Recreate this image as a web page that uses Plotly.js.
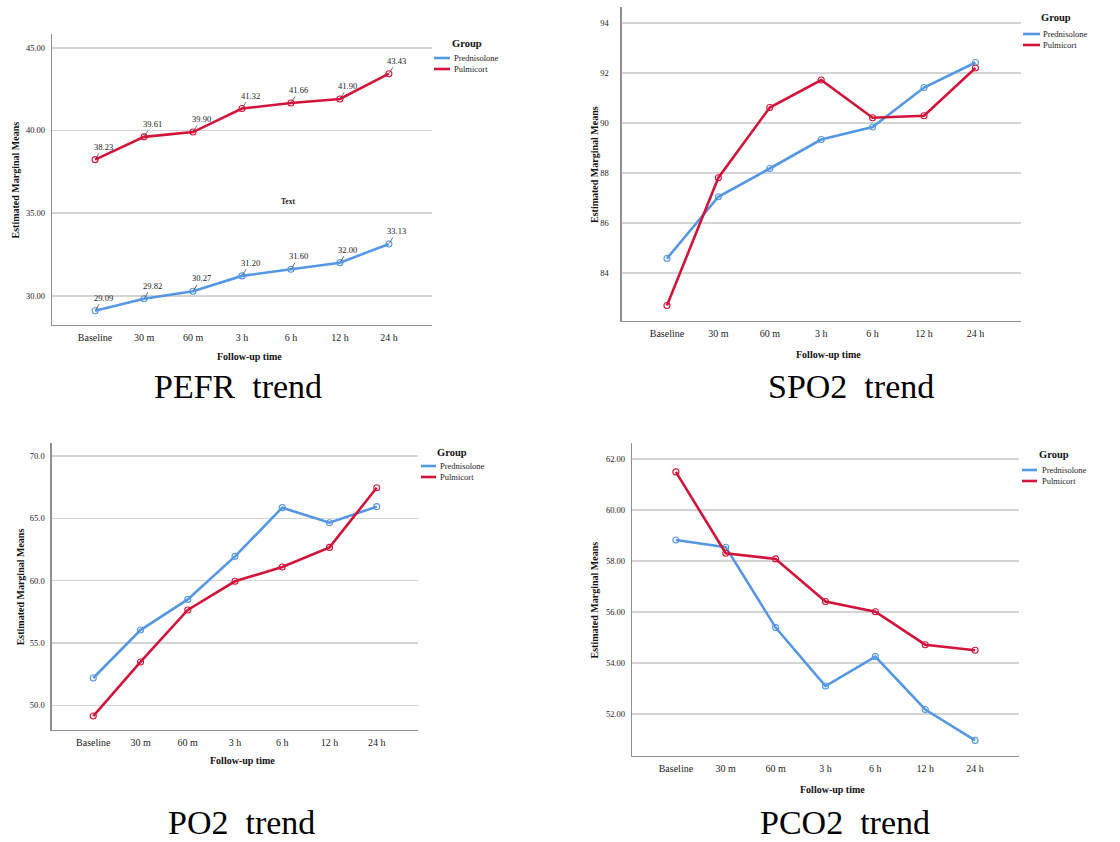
<!DOCTYPE html>
<html>
<head>
<meta charset="utf-8">
<script src="https://cdn.plot.ly/plotly-3.0.1.min.js"></script>
<style>html,body{margin:0;padding:0;background:#fff;}#chart{width:1120px;height:842px;}</style>
</head>
<body>
<div id="chart"></div>
<script>
// ---- data ----
var timepoints = ["Baseline", "30 m", "60 m", "3 h", "6 h", "12 h", "24 h"];
var groups = ["Prednisolone", "Pulmicort"];

var pefrPrednisolone = [29.09, 29.82, 30.27, 31.20, 31.60, 32.00, 33.13];
var pefrPulmicort    = [38.23, 39.61, 39.90, 41.32, 41.66, 41.90, 43.43];

var spo2Prednisolone = [84.57, 87.04, 88.17, 89.33, 89.83, 91.41, 92.41];
var spo2Pulmicort    = [82.69, 87.80, 90.61, 91.71, 90.20, 90.28, 92.19];

var po2Prednisolone  = [52.19, 56.04, 58.50, 61.95, 65.86, 64.65, 65.94];
var po2Pulmicort     = [49.14, 53.48, 57.65, 59.95, 61.10, 62.67, 67.46];

var pco2Prednisolone = [58.82, 58.54, 55.39, 53.10, 54.25, 52.18, 50.97];
var pco2Pulmicort    = [61.49, 58.30, 58.08, 56.41, 56.01, 54.72, 54.50];

var panelTitles = ["PEFR  trend", "SPO2  trend", "PO2  trend", "PCO2  trend"];

// ---- layout helpers ----
var W = 1120, H = 842;
function px(x){ return x / W; }
function py(y){ return 1 - y / H; }

var BLUE = "#5597E3", RED = "#D2143A";
var SERIF = "Liberation Serif, Times New Roman, serif";
var colors = [BLUE, RED];

var panels = [
  {p: pefrPrednisolone, q: pefrPulmicort, box: [52, 432, 34, 325], yr: [28.23, 45.83], dtick: 5, fmt: ".2f", tstand: 4, ytitleX: 15, xtitleY: 356,
   leg: {gx: 467, gy: 44, lx0: 434, lx1: 450, y1: 58, y2: 69, tx: 452}},
  {p: spo2Prednisolone, q: spo2Pulmicort, box: [621.7, 1020.7, 7, 321], yr: [82.07, 94.63], dtick: 2, fmt: "d", tstand: 10, ytitleX: 594, xtitleY: 354,
   leg: {gx: 1056, gy: 18, lx0: 1023, lx1: 1040, y1: 34, y2: 45, tx: 1041}},
  {p: po2Prednisolone, q: po2Pulmicort, box: [51.7, 418.3, 442.7, 730], yr: [48.02, 71.07], dtick: 5, fmt: ".1f", tstand: 4, ytitleX: 20, xtitleY: 760.7,
   leg: {gx: 452, gy: 452, lx0: 421, lx1: 436, y1: 466, y2: 477, tx: 438}},
  {p: pco2Prednisolone, q: pco2Pulmicort, box: [632, 1019, 443.3, 755.7], yr: [50.37, 62.61], dtick: 2, fmt: ".2f", tstand: 4, ytitleX: 594, xtitleY: 789,
   leg: {gx: 1054, gy: 454, lx0: 1022, lx1: 1037, y1: 470, y2: 481, tx: 1040}}
];
// caption anchors: [centre x, y, yanchor]
var titlePos = [[238, 386, "middle"], [851, 386, "middle"], [241.5, 842, "bottom"], [845, 842, "bottom"]];

var traces = [];
var layout = {
  width: W, height: H,
  margin: {l: 0, r: 0, t: 0, b: 0},
  paper_bgcolor: "#ffffff", plot_bgcolor: "#ffffff",
  showlegend: false,
  font: {family: SERIF, color: "#222"},
  annotations: [], shapes: []
};

panels.forEach(function(pn, i){
  var n = i === 0 ? "" : String(i + 1);
  var xa = "x" + n, ya = "y" + n;
  var series = [pn.p, pn.q];
  series.forEach(function(vals, k){
    traces.push({
      type: "scatter", mode: "lines+markers",
      x: timepoints, y: vals, name: groups[k],
      xaxis: xa, yaxis: ya,
      line: {color: colors[k], width: 2.6},
      marker: {symbol: "circle-open", size: 6, color: colors[k], line: {width: 1.1}},
      cliponaxis: false
    });
  });
  var b = pn.box;
  layout["xaxis" + n] = {
    domain: [px(b[0]), px(b[1])], anchor: ya,
    type: "category", range: [-0.88, 6.88],
    showgrid: false, zeroline: false,
    showline: true, linecolor: "#8f8f8f", linewidth: 1.3,
    ticks: "", ticklabelstandoff: 3,
    tickfont: {family: SERIF, size: 10, color: "#222"},
    fixedrange: true
  };
  layout["yaxis" + n] = {
    domain: [py(b[3]), py(b[2])], anchor: xa,
    range: pn.yr, dtick: pn.dtick, tick0: 0, tickformat: pn.fmt,
    showgrid: true, gridcolor: "#d4d4d4", gridwidth: 1.6,
    zeroline: false,
    showline: true, linecolor: "#8f8f8f", linewidth: 1.3,
    ticks: "", ticklabelstandoff: pn.tstand,
    tickfont: {family: SERIF, size: 8.5, color: "#222"},
    fixedrange: true
  };
  // axis titles
  layout.annotations.push({
    xref: "paper", yref: "paper", x: px(pn.ytitleX), y: py((b[2] + b[3]) / 2 + 1),
    text: "<b>Estimated Marginal Means</b>", textangle: -90, showarrow: false,
    font: {family: SERIF, size: 10, color: "#111"}, xanchor: "center", yanchor: "middle"
  });
  layout.annotations.push({
    xref: "paper", yref: "paper", x: px((b[0] + b[1]) / 2 + 7), y: py(pn.xtitleY),
    text: "<b>Follow-up time</b>", showarrow: false,
    font: {family: SERIF, size: 10, color: "#111"}, xanchor: "center", yanchor: "middle"
  });
  // legend
  var L = pn.leg;
  layout.annotations.push({
    xref: "paper", yref: "paper", x: px(L.gx), y: py(L.gy), text: "<b>Group</b>", showarrow: false,
    font: {family: SERIF, size: 10.5, color: "#111"}, xanchor: "center", yanchor: "middle"
  });
  [L.y1, L.y2].forEach(function(yy, k){
    layout.shapes.push({type: "line", xref: "paper", yref: "paper",
      x0: px(L.lx0), x1: px(L.lx1), y0: py(yy), y1: py(yy), line: {color: colors[k], width: 2.6}});
    layout.annotations.push({
      xref: "paper", yref: "paper", x: px(L.tx), y: py(yy), text: groups[k], showarrow: false,
      font: {family: SERIF, size: 8.5, color: "#222"}, xanchor: "left", yanchor: "middle"
    });
  });
  // panel caption
  layout.annotations.push({
    xref: "paper", yref: "paper", x: px(titlePos[i][0]), y: py(titlePos[i][1]),
    text: panelTitles[i], showarrow: false, borderpad: 0,
    font: {family: SERIF, size: 34, color: "#000"}, xanchor: "center", yanchor: titlePos[i][2]
  });
});

// PEFR value labels
[pefrPrednisolone, pefrPulmicort].forEach(function(vals){
  vals.forEach(function(v, j){
    layout.annotations.push({
      xref: "x", yref: "y", x: timepoints[j], y: v,
      text: v.toFixed(2), showarrow: true, arrowhead: 0, arrowwidth: 0.8, arrowcolor: "#444",
      ax: 8, ay: -13, standoff: 1,
      font: {family: SERIF, size: 8.5, color: "#222"}
    });
  });
});
// the stray "Text" label in PEFR panel
layout.annotations.push({
  xref: "paper", yref: "paper", x: px(288), y: py(201), text: "<b>Text</b>", showarrow: false,
  font: {family: SERIF, size: 7.5, color: "#222"}, xanchor: "center", yanchor: "middle"
});

Plotly.newPlot("chart", traces, layout, {displayModeBar: false, staticPlot: true});
</script>
</body>
</html>
